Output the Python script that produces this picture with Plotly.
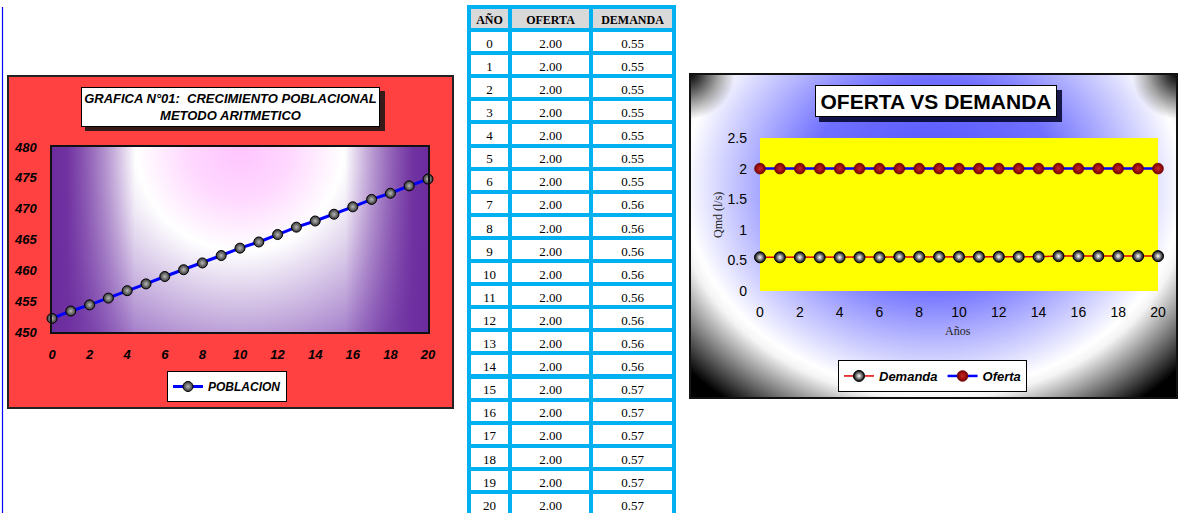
import base64
import plotly.graph_objects as go

W, H = 1179, 513

# ---------------- data ----------------
years = [0, 1, 2, 3, 4, 5, 6, 7, 8, 9, 10, 11, 12, 13, 14, 15, 16, 17, 18, 19, 20]
poblacion = [452.2, 453.4, 454.4, 455.5, 456.7, 457.8, 459.0, 460.1, 461.2, 462.4, 463.6,
             464.6, 465.8, 467.0, 468.0, 469.1, 470.3, 471.5, 472.5, 473.7, 474.8]
oferta = [2.00, 2.00, 2.00, 2.00, 2.00, 2.00, 2.00, 2.00, 2.00, 2.00, 2.00,
          2.00, 2.00, 2.00, 2.00, 2.00, 2.00, 2.00, 2.00, 2.00, 2.00]
demanda = [0.55, 0.55, 0.55, 0.55, 0.55, 0.55, 0.55, 0.56, 0.56, 0.56, 0.56,
           0.56, 0.56, 0.56, 0.56, 0.57, 0.57, 0.57, 0.57, 0.57, 0.57]
table_header = ["AÑO", "OFERTA", "DEMANDA"]
title_left = "GRAFICA N°01:  CRECIMIENTO POBLACIONAL<br>METODO ARITMETICO"
title_right = "OFERTA VS DEMANDA"

SANS = "Liberation Sans, Arial, sans-serif"
SERIF = "Liberation Serif, DejaVu Serif, serif"


def fx(px):
    return px / W


def fy(py):
    return 1 - py / H


def svg_uri(svg):
    return "data:image/svg+xml;base64," + base64.b64encode(svg.encode()).decode()


left_svg = """<svg xmlns="http://www.w3.org/2000/svg" width="376" height="185" viewBox="0 0 376 185" preserveAspectRatio="none">
<defs>
<radialGradient id="r" gradientUnits="userSpaceOnUse" cx="188" cy="0" r="235">
<stop offset="0" stop-color="#ffc4ff"/><stop offset="0.22" stop-color="#ffd8ff"/>
<stop offset="0.44" stop-color="#ffffff"/><stop offset="1" stop-color="#9468c0"/></radialGradient>
<linearGradient id="l" x1="0" y1="0" x2="1" y2="0">
<stop offset="0" stop-color="#6c2c9e" stop-opacity="1"/><stop offset="0.04" stop-color="#6c2c9e" stop-opacity="0.95"/>
<stop offset="0.22" stop-color="#6c2c9e" stop-opacity="0"/><stop offset="0.78" stop-color="#6c2c9e" stop-opacity="0"/>
<stop offset="0.96" stop-color="#6c2c9e" stop-opacity="0.95"/><stop offset="1" stop-color="#6c2c9e" stop-opacity="1"/></linearGradient>
</defs>
<rect width="376" height="185" fill="url(#r)"/><rect width="376" height="185" fill="url(#l)"/></svg>"""

right_svg = """<svg xmlns="http://www.w3.org/2000/svg" width="487" height="324" viewBox="0 0 487 324" preserveAspectRatio="none">
<defs>
<radialGradient id="g" gradientUnits="userSpaceOnUse" cx="0" cy="0" r="300"
 gradientTransform="translate(243 110) scale(1.2 1)">
<stop offset="0" stop-color="#5050ff"/><stop offset="0.35" stop-color="#7070ff"/>
<stop offset="0.6" stop-color="#d8d8ff"/><stop offset="0.69" stop-color="#ffffff"/>
<stop offset="0.72" stop-color="#f4f4f4"/><stop offset="0.92" stop-color="#000000"/></radialGradient>
<radialGradient id="c1" gradientUnits="userSpaceOnUse" cx="0" cy="0" r="45">
<stop offset="0" stop-color="#000" stop-opacity="0.95"/><stop offset="1" stop-color="#000" stop-opacity="0"/></radialGradient>
<radialGradient id="c2" gradientUnits="userSpaceOnUse" cx="487" cy="0" r="45">
<stop offset="0" stop-color="#000" stop-opacity="0.95"/><stop offset="1" stop-color="#000" stop-opacity="0"/></radialGradient>
</defs>
<rect width="487" height="324" fill="url(#g)"/>
<rect width="487" height="324" fill="url(#c1)"/><rect width="487" height="324" fill="url(#c2)"/></svg>"""

fig = go.Figure()

# ---------------- left chart ----------------
fig.add_trace(go.Scatter(
    x=years, y=poblacion, mode="lines+markers", name="POBLACION",
    xaxis="x", yaxis="y", legend="legend", cliponaxis=False,
    line=dict(color="#0000ff", width=3),
    marker=dict(size=10, color="#333333", gradient=dict(type="radial", color="#b8b8b8"),
                line=dict(color="#000000", width=1)),
))

# ---------------- right chart ----------------
fig.add_trace(go.Scatter(
    x=years, y=demanda, mode="lines+markers", name="Demanda",
    xaxis="x2", yaxis="y2", legend="legend2", cliponaxis=False,
    line=dict(color="#e00000", width=1.5),
    marker=dict(size=11, color="#000000", gradient=dict(type="radial", color="#ffffff"),
                line=dict(color="#000000", width=1)),
))
fig.add_trace(go.Scatter(
    x=years, y=oferta, mode="lines+markers", name="Oferta",
    xaxis="x2", yaxis="y2", legend="legend2", cliponaxis=False,
    line=dict(color="#0000ff", width=2.5),
    marker=dict(size=11, color="#780000", gradient=dict(type="radial", color="#c82828"),
                line=dict(color="#600000", width=0.5)),
))

# ---------------- table ----------------
fig.add_trace(go.Table(
    domain=dict(x=[fx(469), fx(675)], y=[0, fy(7)]),
    columnwidth=[41, 81, 83],
    header=dict(values=table_header, fill_color="#d9d9d9", align="center",
                line=dict(color="#00b0f0", width=4), height=23,
                font=dict(family=SERIF, size=12, color="black", weight="bold")),
    cells=dict(values=[years, oferta, demanda], format=["", ".2f", ".2f"],
               fill_color="white", align="center", height=23.1,
               line=dict(color="#00b0f0", width=4),
               font=dict(family=SERIF, size=13, color="black")),
))

bi = dict(family=SANS, size=13, color="black", weight="bold", style="italic")

fig.update_layout(
    width=W, height=H, margin=dict(l=0, r=0, t=0, b=0, pad=0, autoexpand=False),
    paper_bgcolor="white", plot_bgcolor="rgba(0,0,0,0)",
    xaxis=dict(domain=[fx(52), fx(428)], anchor="y", range=[0, 20], dtick=2, tick0=0,
               showgrid=False, zeroline=False, showline=True, mirror=True,
               linecolor="#111", linewidth=1.5, ticks="", tickfont=bi, ticklabelstandoff=10),
    yaxis=dict(domain=[fy(332), fy(147)], anchor="x", range=[450, 480], dtick=5, tick0=450,
               showgrid=False, zeroline=False, showline=True, mirror=True,
               linecolor="#111", linewidth=1.5, ticks="", tickfont=bi, ticklabelstandoff=11),
    xaxis2=dict(domain=[fx(760), fx(1158)], anchor="y2", range=[0, 20], dtick=2, tick0=0,
                showgrid=False, zeroline=False, showline=False, ticks="",
                tickfont=dict(family=SANS, size=14, color="black"), ticklabelstandoff=11),
    yaxis2=dict(domain=[fy(291), fy(138)], anchor="x2", range=[0, 2.5], dtick=0.5, tick0=0,
                showgrid=False, zeroline=False, showline=False, ticks="",
                tickfont=dict(family=SANS, size=14, color="black"), ticklabelstandoff=12),
    legend=dict(x=fx(167), y=fy(371), xanchor="left", yanchor="top", bgcolor="white",
                bordercolor="black", borderwidth=1, itemwidth=30,
                font=dict(family=SANS, size=12, color="black", weight="bold", style="italic")),
    legend2=dict(x=fx(838), y=fy(360), xanchor="left", yanchor="top", orientation="h",
                 bgcolor="white", bordercolor="black", borderwidth=1, itemwidth=30,
                 font=dict(family=SANS, size=13, color="black", weight="bold", style="italic")),
    showlegend=True,
)

shapes = [
    # thin blue line at the far left
    dict(type="line", xref="paper", yref="paper", x0=fx(2.5), x1=fx(2.5), y0=fy(7), y1=0,
         line=dict(color="#0000ff", width=1.2), layer="below"),
    # left chart box
    dict(type="rect", xref="paper", yref="paper", x0=fx(8), x1=fx(453), y0=fy(76), y1=fy(408),
         fillcolor="#ff4141", line=dict(color="#222222", width=2), layer="below"),
    # left title shadow
    dict(type="rect", xref="paper", yref="paper", x0=fx(85), x1=fx(385), y0=fy(91), y1=fy(131),
         fillcolor="rgba(20,20,20,0.85)", line=dict(width=0), layer="below"),
    # right plot area
    dict(type="rect", xref="paper", yref="paper", x0=fx(760), x1=fx(1158), y0=fy(138), y1=fy(291),
         fillcolor="#ffff00", line=dict(width=0), layer="below"),
    # right title shadow
    dict(type="rect", xref="paper", yref="paper", x0=fx(819), x1=fx(1062), y0=fy(90), y1=fy(122),
         fillcolor="rgba(0,0,40,0.85)", line=dict(width=0), layer="below"),
    # right chart border
    dict(type="rect", xref="paper", yref="paper", x0=fx(690), x1=fx(1177), y0=fy(74), y1=fy(398),
         fillcolor="rgba(0,0,0,0)", line=dict(color="#111111", width=2), layer="below"),
]
fig.update_layout(shapes=shapes)

fig.update_layout(images=[
    dict(source=svg_uri(right_svg), xref="paper", yref="paper", x=fx(690), y=fy(74),
         sizex=487 / W, sizey=324 / H, xanchor="left", yanchor="top", sizing="stretch", layer="below"),
    dict(source=svg_uri(left_svg), xref="x", yref="y", x=0, y=480, sizex=20, sizey=30,
         xanchor="left", yanchor="top", sizing="stretch", layer="below"),
])

fig.update_layout(annotations=[
    dict(text=title_left, xref="paper", yref="paper", x=fx(230.5), y=fy(107), showarrow=False,
         xanchor="center", yanchor="middle", align="center", bgcolor="white",
         bordercolor="black", borderwidth=1, width=295, height=36,
         font=dict(family=SANS, size=13, color="black", weight="bold", style="italic")),
    dict(text=title_right, xref="paper", yref="paper", x=fx(936), y=fy(101.5), showarrow=False,
         xanchor="center", yanchor="middle", bgcolor="white",
         bordercolor="black", borderwidth=1, width=238, height=28,
         font=dict(family=SANS, size=21, color="black", weight="bold")),
    dict(text="Años", xref="paper", yref="paper", x=fx(958), y=fy(331), showarrow=False,
         xanchor="center", yanchor="middle", font=dict(family=SERIF, size=12, color="#222")),
    dict(text="Qmd (l/s)", xref="paper", yref="paper", x=fx(718), y=fy(215), showarrow=False,
         textangle=-90, xanchor="center", yanchor="middle",
         font=dict(family=SERIF, size=12, color="#222")),
])

fig.write_html("out.html", config={"displayModeBar": False},
               post_script="document.body.style.margin='0px';document.body.style.overflow='hidden';")
